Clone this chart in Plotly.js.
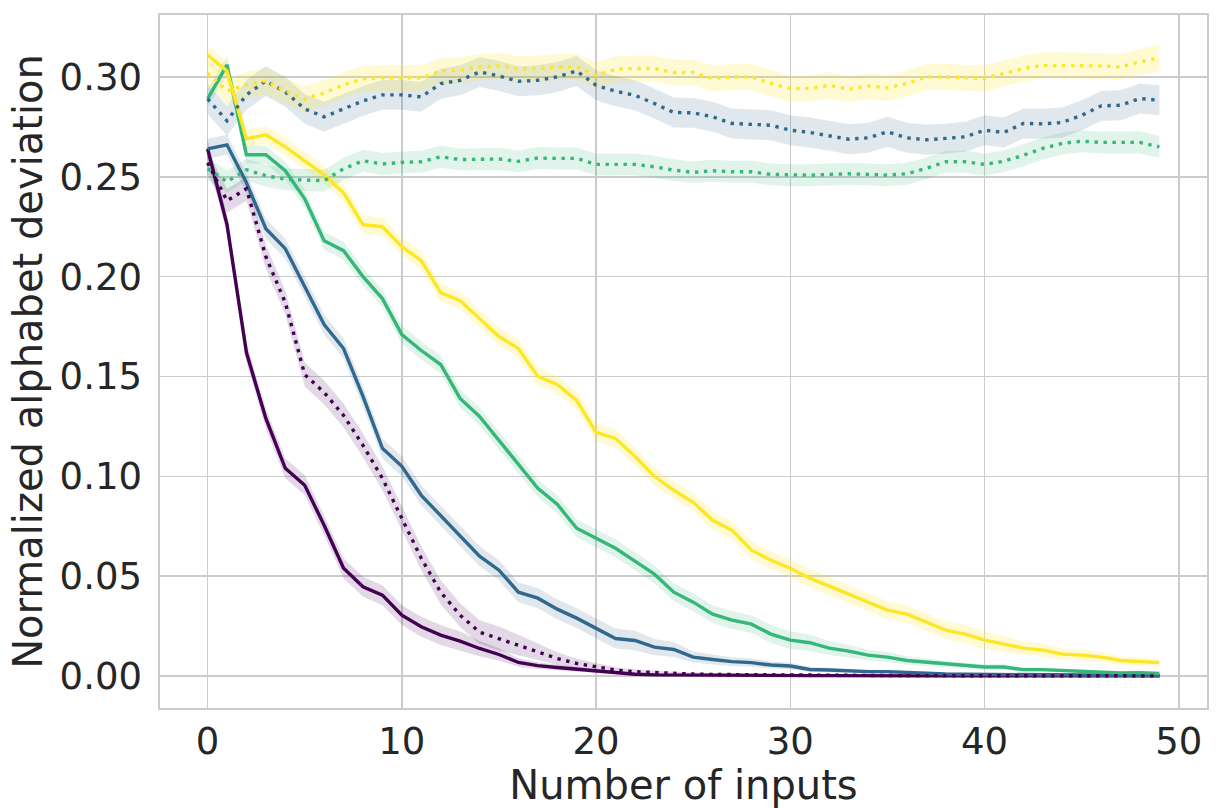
<!DOCTYPE html>
<html>
<head>
<meta charset="utf-8">
<script src="https://cdn.plot.ly/plotly-3.0.1.min.js"></script>
<style>html,body{margin:0;padding:0;background:#fff;}#chart{width:1222px;height:808px;}</style>
</head>
<body>
<div id="chart"></div>
<script>
// x values: number of inputs 0..49
const inputs = Array.from({length: 50}, (_, i) => i);

// solid series
const purpleSolid = [0.264,0.226,0.162,0.129,0.104,0.0955,0.0755,0.054,0.0447,0.0405,0.0305,0.0247,0.0205,0.0175,0.0138,0.0108,0.0068,0.0052,0.0043,0.0035,0.0025,0.0015,0.0009,0.0006,0.0005,0.0004,0.0003,0.0003,0.0002,0.0002,0.0002,0.0002,0.0002,0.0001,0.0001,0.0001,0.0001,0.0001,0.0001,0.0001,0.0001,0.0001,0.0001,0.0001,0.0001,0.0001,0.0001,0.0001,0.0001,0.0001];
const blueSolid = [0.264,0.266,0.247,0.224,0.214,0.195,0.176,0.164,0.140,0.114,0.105,0.0905,0.0805,0.0705,0.060,0.053,0.042,0.039,0.0335,0.029,0.024,0.0188,0.0178,0.0145,0.0133,0.0095,0.0083,0.0072,0.0067,0.0055,0.005,0.0033,0.003,0.0025,0.0022,0.0022,0.0017,0.0012,0.001,0.0009,0.0008,0.0007,0.0006,0.0006,0.0005,0.0005,0.0004,0.0004,0.0004,0.0003];
const greenSolid = [0.289,0.306,0.261,0.261,0.253,0.239,0.218,0.213,0.200,0.189,0.171,0.163,0.156,0.139,0.130,0.118,0.106,0.094,0.086,0.074,0.069,0.064,0.0575,0.051,0.042,0.037,0.031,0.028,0.026,0.021,0.018,0.0167,0.014,0.0125,0.0105,0.0095,0.0078,0.007,0.0058,0.005,0.0045,0.0045,0.0032,0.0032,0.0028,0.0025,0.0018,0.0015,0.0017,0.0013];
const yellowSolid = [0.311,0.303,0.269,0.271,0.265,0.258,0.251,0.242,0.226,0.225,0.215,0.208,0.192,0.188,0.179,0.170,0.164,0.150,0.146,0.138,0.122,0.119,0.110,0.100,0.093,0.087,0.078,0.073,0.063,0.058,0.054,0.049,0.045,0.041,0.037,0.033,0.031,0.027,0.023,0.021,0.018,0.016,0.014,0.013,0.011,0.0105,0.0095,0.0078,0.0072,0.0067];

// dotted series
const purpleDotted = [0.257,0.238,0.244,0.210,0.187,0.151,0.142,0.1305,0.1155,0.099,0.079,0.059,0.042,0.0305,0.022,0.0188,0.0155,0.0122,0.0088,0.0063,0.0047,0.003,0.0022,0.0017,0.0013,0.001,0.0008,0.0007,0.0006,0.0005,0.0004,0.0003,0.0003,0.0003,0.0003,0.0002,0.0002,0.0002,0.0002,0.0002,0.0001,0.0001,0.0001,0.0001,0.0001,0.0001,0.0001,0.0001,0.0001,0.0001];
const blueDotted = [0.289,0.278,0.291,0.298,0.2925,0.284,0.280,0.284,0.288,0.291,0.291,0.290,0.2966,0.2983,0.3025,0.3005,0.2978,0.2983,0.300,0.303,0.2958,0.2928,0.2908,0.2867,0.2822,0.282,0.280,0.2767,0.2762,0.2758,0.2733,0.2722,0.2705,0.2688,0.2695,0.2725,0.2695,0.2685,0.2692,0.270,0.2733,0.2722,0.2767,0.2765,0.2772,0.2808,0.2855,0.2858,0.2892,0.2883];
const greenDotted = [0.254,0.2475,0.2535,0.2505,0.2488,0.2485,0.248,0.254,0.258,0.2564,0.2572,0.2575,0.260,0.2586,0.2589,0.2589,0.2577,0.2594,0.2592,0.2592,0.2562,0.2562,0.2562,0.255,0.2533,0.2522,0.253,0.2525,0.2525,0.2512,0.2508,0.2508,0.2512,0.2515,0.2512,0.2508,0.2515,0.2542,0.2575,0.2575,0.2562,0.2578,0.2608,0.2642,0.2667,0.2678,0.2672,0.2672,0.2672,0.265];
const yellowDotted = [0.302,0.293,0.296,0.298,0.293,0.289,0.292,0.296,0.299,0.2995,0.2995,0.2995,0.303,0.3034,0.305,0.3055,0.304,0.3042,0.305,0.305,0.3008,0.3038,0.3042,0.3042,0.3022,0.3022,0.2992,0.300,0.300,0.2967,0.2942,0.2942,0.2958,0.2938,0.2955,0.2945,0.2967,0.300,0.300,0.2995,0.2992,0.3017,0.3042,0.3058,0.3058,0.3058,0.3055,0.305,0.3075,0.3095];

// confidence band half-widths (per series)
const ciHalf = {purpleSolid:0.005, blueSolid:0.005, greenSolid:0.0045, yellowSolid:0.0045,
                purpleDotted:0.006, blueDotted:0.0075, greenDotted:0.0055, yellowDotted:0.0065};

const colors = {purple:'#440154', blue:'#31688e', green:'#35b779', yellow:'#fde725'};
const xTicks = [0,10,20,30,40,50];
const yTicks = [0,0.05,0.10,0.15,0.20,0.25,0.30];
const xTitle = 'Number of inputs';
const yTitle = 'Normalized alphabet deviation';

function rgba(hex, a){
  const r=parseInt(hex.slice(1,3),16), g=parseInt(hex.slice(3,5),16), b=parseInt(hex.slice(5,7),16);
  return `rgba(${r},${g},${b},${a})`;
}

const seriesDefs = [
  {name:'purpleSolid', data:purpleSolid, color:colors.purple, dotted:false},
  {name:'blueSolid', data:blueSolid, color:colors.blue, dotted:false},
  {name:'greenSolid', data:greenSolid, color:colors.green, dotted:false},
  {name:'yellowSolid', data:yellowSolid, color:colors.yellow, dotted:false},
  {name:'purpleDotted', data:purpleDotted, color:colors.purple, dotted:true},
  {name:'blueDotted', data:blueDotted, color:colors.blue, dotted:true},
  {name:'greenDotted', data:greenDotted, color:colors.green, dotted:true},
  {name:'yellowDotted', data:yellowDotted, color:colors.yellow, dotted:true}
];

const bandTraces = [], lineTraces = [];
seriesDefs.forEach(s => {
  const h = ciHalf[s.name];
  const hw = s.data.map(v => h * Math.min(1, v / 0.02 + 0.08));
  const lo = s.data.map((v, i) => Math.max(0, v - hw[i]));
  const hi = s.data.map((v, i) => v + hw[i]);
  bandTraces.push({x: inputs, y: lo, mode:'lines', line:{width:0, color:s.color}, hoverinfo:'skip', showlegend:false, type:'scatter'});
  bandTraces.push({x: inputs, y: hi, mode:'lines', line:{width:0, color:s.color}, fill:'tonexty',
                   fillcolor: rgba(s.color, s.color === colors.yellow ? 0.2 : 0.15), hoverinfo:'skip', showlegend:false, type:'scatter'});
  lineTraces.push({x: inputs, y: s.data, mode:'lines', name:s.name, type:'scatter',
                   line:{color:s.color, width:3.4, dash: s.dotted ? '3.4px,5.6px' : 'solid'}, showlegend:false});
});

const font = {family:'"DejaVu Sans", sans-serif', color:'#262626'};
const layout = {
  width:1222, height:808,
  margin:{l:160, r:15, t:15, b:100},
  paper_bgcolor:'#ffffff', plot_bgcolor:'#ffffff',
  showlegend:false,
  font: font,
  xaxis:{
    range:[-2.45, 51.45], tickvals:xTicks, ticktext:xTicks.map(String),
    showgrid:true, gridcolor:'#cccccc', gridwidth:1.6,
    showline:true, mirror:true, linecolor:'#cccccc', linewidth:1.6,
    zeroline:false, ticks:'', ticklabelstandoff:0,
    tickfont:{family:font.family, size:37, color:'#262626'},
    title:{text:xTitle, font:{family:font.family, size:40, color:'#262626'}, standoff:14}
  },
  yaxis:{
    range:[-0.016, 0.331], tickvals:yTicks, ticktext:yTicks.map(v => v.toFixed(2)),
    showgrid:true, gridcolor:'#cccccc', gridwidth:1.6,
    showline:true, mirror:true, linecolor:'#cccccc', linewidth:1.6,
    zeroline:false, ticks:'', ticklabelstandoff:9,
    tickfont:{family:font.family, size:37, color:'#262626'},
    title:{text:yTitle, font:{family:font.family, size:40, color:'#262626'}, standoff:4}
  }
};

Plotly.newPlot('chart', bandTraces.concat(lineTraces), layout, {displayModeBar:false, staticPlot:true});
</script>
</body>
</html>
